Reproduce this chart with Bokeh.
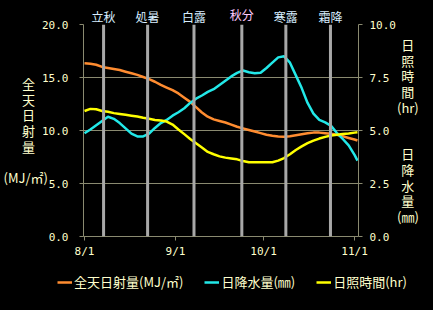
from bokeh.plotting import figure
from bokeh.layouts import column
from bokeh.models import (Range1d, LinearAxis, FixedTicker, Span, Legend,
                          LegendItem, NumeralTickFormatter)
from bokeh.embed import file_html
from bokeh.resources import INLINE

# ---- data (day index from 8/1) ----
days = [0, 2, 4, 6, 8, 10, 12, 14, 16, 18, 20, 22, 24, 26, 28, 30, 32, 34, 36, 38,
        40, 42, 44, 46, 48, 50, 52, 54, 56, 58, 60, 62, 64, 66, 68, 70, 72, 74, 76,
        78, 80, 82, 84, 86, 88, 90, 92, 93]
radiation = [16.35, 16.3, 16.2, 16.0, 15.9, 15.8, 15.7, 15.55, 15.4, 15.25, 15.05,
             14.85, 14.6, 14.3, 14.05, 13.8, 13.5, 13.1, 12.7, 12.2, 11.7, 11.3,
             11.05, 10.9, 10.75, 10.55, 10.35, 10.2, 10.05, 9.9, 9.75, 9.6, 9.5,
             9.43, 9.4, 9.45, 9.55, 9.65, 9.75, 9.8, 9.8, 9.75, 9.7, 9.6, 9.45,
             9.3, 9.15, 9.06]
precip = [4.87, 5.05, 5.25, 5.45, 5.65, 5.55, 5.35, 5.1, 4.85, 4.72, 4.72, 4.85,
          5.12, 5.35, 5.5, 5.7, 5.86, 6.05, 6.3, 6.5, 6.65, 6.82, 6.95, 7.15, 7.35,
          7.55, 7.72, 7.83, 7.75, 7.7, 7.72, 7.95, 8.2, 8.45, 8.5, 8.2, 7.6, 7.0,
          6.3, 5.8, 5.5, 5.38, 5.22, 4.88, 4.6, 4.3, 3.85, 3.58]
sunshine = [5.92, 6.02, 6.0, 5.92, 5.88, 5.82, 5.78, 5.74, 5.7, 5.66, 5.6, 5.55,
            5.5, 5.47, 5.42, 5.28, 5.05, 4.83, 4.6, 4.4, 4.2, 3.99, 3.88, 3.78,
            3.72, 3.68, 3.64, 3.56, 3.5, 3.5, 3.5, 3.5, 3.5, 3.58, 3.7, 3.88, 4.08,
            4.25, 4.4, 4.52, 4.62, 4.7, 4.76, 4.8, 4.83, 4.86, 4.9, 4.92]

term_names = ["立秋", "処暑", "白露", "秋分", "寒露", "霜降"]
term_days = [6.5, 21.5, 37.3, 53.6, 68.6, 83.8]
pink_term = "秋分"

series_names = ["全天日射量(MJ/㎡)", "日降水量(㎜)", "日照時間(hr)"]
series_colors = ["#FF8C30", "#22E8E8", "#FFFF00"]
series_values = [radiation, precip, sunshine]

left_title_chars = ["全", "天", "日", "射", "量"]
left_title_unit = "(MJ/㎡)"
right_top_chars = ["日", "照", "時", "間"]
right_top_unit = "(hr)"
right_bottom_chars = ["日", "降", "水", "量"]
right_bottom_unit = "(㎜)"

x_tick_days = [0, 31, 61, 92]
x_tick_labels = ["8/1", "9/1", "10/1", "11/1"]
left_ticks = [0, 5, 10, 15, 20]
right_ticks = [0, 2.5, 5, 7.5, 10]

FONT = "Noto Sans CJK JP"
MONO = "DejaVu Sans Mono"
TXT = "#FFFFCC"
GRID = "#8A8A70"
BG = "#000000"
IDSP = "\u3000"   # ideographic space (pads right-aligned lines)
NSP = "\u2004"    # narrow space (pads left-aligned lines)

p = figure(width=433, height=262, output_backend="svg", toolbar_location=None,
           x_range=Range1d(-0.34, 93.35), y_range=Range1d(0, 20),
           min_border_left=82, min_border_right=75, min_border_top=24,
           min_border_bottom=26)
p.background_fill_color = BG
p.border_fill_color = BG
p.outline_line_color = None
p.frame_align = False
p.extra_y_ranges = {"right": Range1d(0, 10)}


def style_axis(ax):
    ax.axis_line_color = GRID
    ax.major_tick_line_color = GRID
    ax.minor_tick_line_color = None
    ax.major_tick_in = 0
    ax.major_tick_out = 4
    ax.major_label_text_color = TXT
    ax.major_label_text_font = MONO
    ax.major_label_text_font_size = "11px"
    ax.axis_label_text_color = TXT
    ax.axis_label_text_font = FONT
    ax.axis_label_text_font_size = "13px"
    ax.axis_label_text_font_style = "normal"


xa = p.xaxis[0]
xa.ticker = FixedTicker(ticks=x_tick_days)
xa.major_label_overrides = {d: l for d, l in zip(x_tick_days, x_tick_labels)}
style_axis(xa)
xa.major_label_standoff = 4

ya = p.yaxis[0]
ya.ticker = FixedTicker(ticks=left_ticks)
ya.formatter = NumeralTickFormatter(format="0.0")
style_axis(ya)
ya.major_label_standoff = 11
ya.axis_label = "\n".join([c + IDSP for c in left_title_chars] + ["", left_title_unit])
ya.axis_label_orientation = "horizontal"
ya.axis_label_standoff = -9
ya.axis_label_text_line_height = 0.82
ya.axis_label_text_align = "center"

ra = LinearAxis(y_range_name="right", ticker=FixedTicker(ticks=right_ticks),
                formatter=NumeralTickFormatter(format="0.0"))
style_axis(ra)
ra.major_label_standoff = 7
ra.axis_label = "\n".join([NSP + c for c in right_top_chars] + [right_top_unit, "", ""]
                          + [NSP + c for c in right_bottom_chars] + [right_bottom_unit])
ra.axis_label_orientation = "horizontal"
ra.axis_label_standoff = -2
ra.axis_label_text_line_height = 0.82
ra.axis_label_text_align = "center"
p.add_layout(ra, "right")

# solar term names as top axes (one in pink, overlapped onto the same row)
ta = LinearAxis(ticker=FixedTicker(ticks=[d for d, n in zip(term_days, term_names)
                                          if n != pink_term]),
                major_label_overrides={d: n for d, n in zip(term_days, term_names)
                                       if n != pink_term})
style_axis(ta)
ta.axis_line_color = None
ta.major_tick_line_color = None
ta.major_tick_out = 0
ta.major_label_standoff = 0
ta.major_label_text_font = FONT
ta.major_label_text_font_size = "12px"
ta.major_label_text_color = "#D8EEFF"
p.add_layout(ta, "above")

tb = LinearAxis(ticker=FixedTicker(ticks=[d for d, n in zip(term_days, term_names)
                                          if n == pink_term]),
                major_label_overrides={d: n for d, n in zip(term_days, term_names)
                                       if n == pink_term})
style_axis(tb)
tb.axis_line_color = None
tb.major_tick_line_color = None
tb.major_tick_out = 0
tb.major_label_standoff = -18
tb.major_label_text_font = FONT
tb.major_label_text_font_size = "12px"
tb.major_label_text_color = "#FFCCFF"
p.add_layout(tb, "above")

p.xgrid.grid_line_color = None
p.ygrid.grid_line_color = GRID
p.ygrid.grid_line_width = 1
p.ygrid.ticker = FixedTicker(ticks=left_ticks)

for d in term_days:
    p.add_layout(Span(location=d, dimension="height", line_color="#A8A8A8",
                      line_width=3))

p.line(days, radiation, line_color=series_colors[0], line_width=2.5)
p.line(days, precip, line_color=series_colors[1], line_width=2.5, y_range_name="right")
p.line(days, sunshine, line_color=series_colors[2], line_width=2.5, y_range_name="right")

# legend strip below the chart (series drawn outside its visible range)
lf = figure(width=433, height=48, output_backend="svg", toolbar_location=None,
            x_range=Range1d(0, 1), y_range=Range1d(-2, -1),
            x_axis_location=None, y_axis_location=None, min_border=0)
lf.background_fill_color = BG
lf.border_fill_color = BG
lf.outline_line_color = None
lf.frame_align = False
lf.xgrid.grid_line_color = None
lf.ygrid.grid_line_color = None
lf.grid.visible = False
items = []
for name, c, vals in zip(series_names, series_colors, series_values):
    rr = lf.line(days, vals, line_color=c, line_width=2.5)
    items.append(LegendItem(label=name, renderers=[rr]))
legend = Legend(items=items, location=(57, 19), orientation="horizontal",
                background_fill_alpha=0, border_line_color=None,
                label_text_color=TXT, label_text_font=FONT,
                label_text_font_size="13px", glyph_width=15, glyph_height=12,
                label_standoff=2, spacing=21, padding=0, margin=0)
lf.add_layout(legend, "center")

layout = column(p, lf, spacing=0, styles={"background-color": "#000000"})
open("out.html", "w").write(file_html(layout, INLINE))
